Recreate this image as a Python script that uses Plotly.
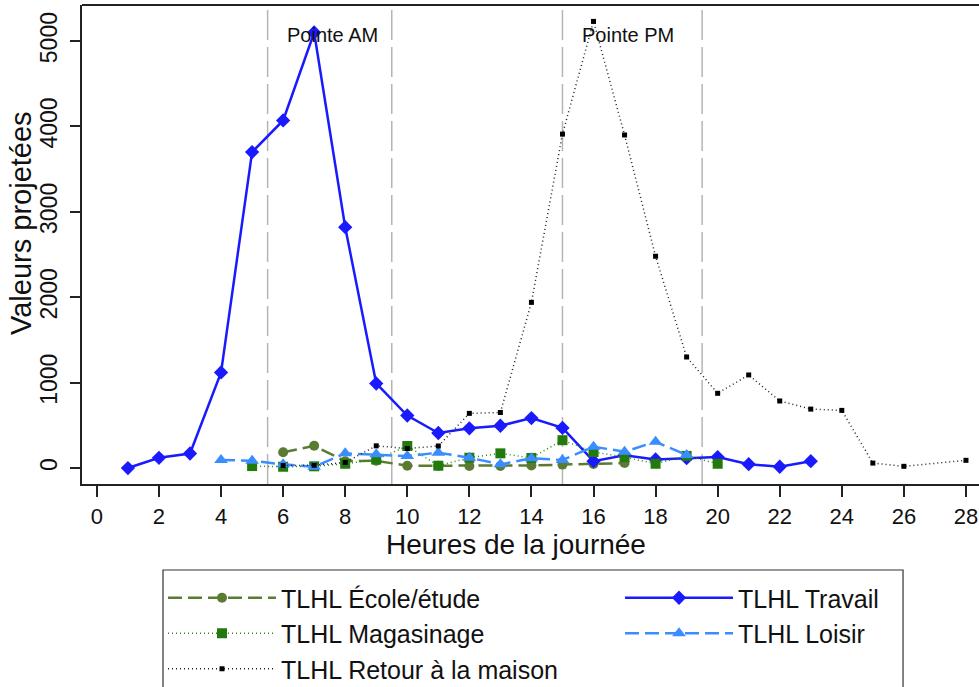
import plotly.graph_objects as go

# ---- data ----
ecole_h = [6, 7, 8, 9, 10, 11, 12, 13, 14, 15, 16, 17]
ecole = [184, 260, 80, 85, 27, 27, 23, 23, 30, 40, 48, 58]

travail_h = list(range(1, 24))
travail = [0, 120, 170, 1120, 3700, 4070, 5100, 2820, 990, 615, 410, 465, 495,
           585, 470, 80, 150, 100, 115, 128, 45, 15, 80]

mag_h = [5, 6, 7, 8, 9, 10, 11, 12, 13, 14, 15, 16, 17, 18, 19, 20]
mag = [23, 15, 20, 50, 100, 258, 27, 121, 172, 118, 326, 188, 128, 50, 142, 50]

loisir_h = [4, 5, 6, 7, 8, 9, 10, 11, 12, 13, 14, 15, 16, 17, 18, 19]
loisir = [95, 85, 43, 15, 172, 160, 140, 180, 121, 43, 115, 94, 250, 191, 308, 152]

retour_h = [6, 7, 8, 9, 10, 11, 12, 13, 14, 15, 16, 17, 18, 19, 20, 21, 22, 23,
            24, 25, 26, 28]
retour = [30, 32, 65, 260, 228, 258, 640, 650, 1940, 3910, 5230, 3900, 2480,
          1300, 875, 1090, 785, 690, 675, 58, 20, 90]

peak_lines = [5.5, 9.5, 15, 19.5]
peak_labels = ["Pointe AM", "Pointe PM"]
peak_label_x = [7.6, 17.1]

x_ticks = list(range(0, 29, 2))
y_ticks = [0, 1000, 2000, 3000, 4000, 5000]

FONT = "Liberation Sans, Arial, Helvetica, sans-serif"

fig = go.Figure()

fig.add_trace(go.Scatter(
    x=ecole_h, y=ecole, name="TLHL École/étude", mode="lines+markers",
    line=dict(color="#5b7b33", width=2.5, dash="14px,6px"),
    marker=dict(symbol="circle", size=10, color="#5b7b33"), legend="legend"))

fig.add_trace(go.Scatter(
    x=travail_h, y=travail, name="TLHL Travail", mode="lines+markers",
    line=dict(color="#1a1aff", width=2.5),
    marker=dict(symbol="diamond", size=11, color="#1a1aff"), legend="legend2"))

fig.add_trace(go.Scatter(
    x=mag_h, y=mag, name="TLHL Magasinage", mode="lines+markers",
    line=dict(color="#2a8a12", width=1.5, dash="1px,3px"),
    marker=dict(symbol="square", size=10, color="#237a0c"), legend="legend"))

fig.add_trace(go.Scatter(
    x=loisir_h, y=loisir, name="TLHL Loisir", mode="lines+markers",
    line=dict(color="#3a8dff", width=2.5, dash="14px,6px"),
    marker=dict(symbol="triangle-up", size=12, color="#3a8dff"), legend="legend2"))

fig.add_trace(go.Scatter(
    x=retour_h, y=retour, name="TLHL Retour à la maison", mode="lines+markers",
    line=dict(color="#222222", width=1.5, dash="1px,3px"),
    marker=dict(symbol="square", size=5, color="#000000"), legend="legend"))

for xv in peak_lines:
    fig.add_shape(type="line", xref="x", yref="paper", x0=xv, x1=xv, y0=0, y1=1,
                  line=dict(color="#b5b5b5", width=1.5, dash="30px,7px"),
                  layer="below")

# top frame line
fig.add_shape(type="line", xref="paper", yref="paper", x0=0, x1=1, y0=1, y1=1,
              line=dict(color="#222222", width=2))

# legend frame
fig.add_shape(type="rect", xref="paper", yref="paper",
              x0=0.0903, x1=0.9153, y0=-0.1795, y1=-0.47,
              line=dict(color="#333333", width=1.2), fillcolor="rgba(0,0,0,0)")

for lab, xv in zip(peak_labels, peak_label_x):
    fig.add_annotation(x=xv, y=0.937, xref="x", yref="paper", text=lab,
                       showarrow=False, xanchor="center", yanchor="middle",
                       font=dict(size=20, color="#111111"))

fig.add_annotation(x=0.4838, y=-0.126, xref="paper", yref="paper",
                   text="Heures de la journée", showarrow=False,
                   xanchor="center", yanchor="middle",
                   font=dict(size=28, color="#111111"))
fig.add_annotation(x=-0.0680, y=0.545, xref="paper", yref="paper",
                   text="Valeurs projetées", showarrow=False, textangle=-90,
                   xanchor="center", yanchor="middle",
                   font=dict(size=29, color="#111111"))

legend_common = dict(
    orientation="v", xanchor="left", yanchor="top",
    borderwidth=0, bgcolor="rgba(0,0,0,0)",
    font=dict(size=25, color="#111111"), itemwidth=108, tracegroupgap=0,
)

fig.update_layout(
    width=979, height=687,
    margin=dict(l=82, r=0, t=5, b=203, autoexpand=False),
    paper_bgcolor="white", plot_bgcolor="white",
    font=dict(family=FONT, color="#111111"),
    showlegend=True,
    legend=dict(x=0.0903, y=-0.19, **legend_common),
    legend2=dict(x=0.5998, y=-0.19, **legend_common),
    xaxis=dict(
        range=[-0.48, 28.42], tickvals=x_ticks, showgrid=False, zeroline=False,
        showline=True, linecolor="#222222", linewidth=2,
        ticks="outside", ticklen=11, tickwidth=1.5, tickcolor="#222222",
        ticklabelstandoff=1,
        tickfont=dict(size=22, color="#111111"),
    ),
    yaxis=dict(
        range=[-187, 5422], tickvals=y_ticks, showgrid=False, zeroline=False,
        showline=True, linecolor="#222222", linewidth=2,
        ticks="outside", ticklen=10, tickwidth=1.5, tickcolor="#222222",
        ticklabelstandoff=4,
        tickangle=-90, tickfont=dict(size=23, color="#111111"),
    ),
)

fig.write_html("out.html")
